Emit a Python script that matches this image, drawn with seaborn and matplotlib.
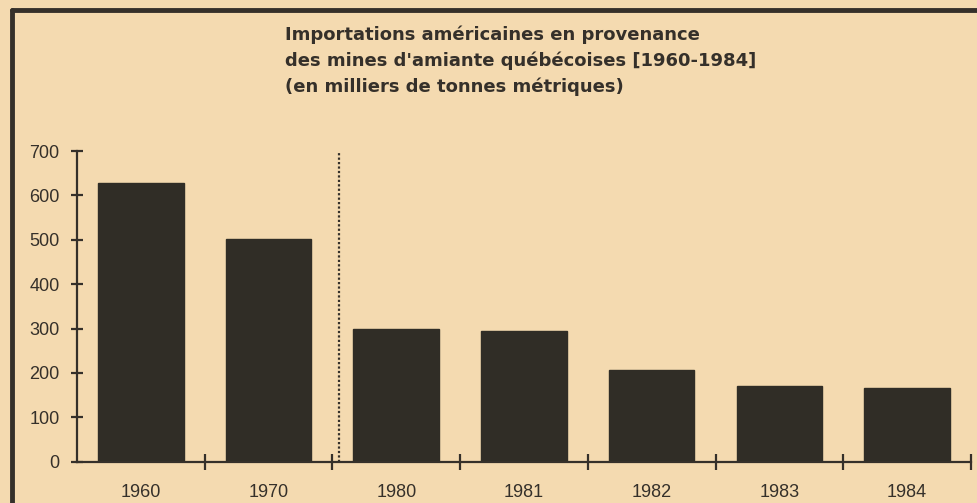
import matplotlib
matplotlib.use("Agg")
import matplotlib.pyplot as plt
import seaborn as sns
from matplotlib.lines import Line2D

# valeurs (milliers de tonnes métriques)
years = ["1960", "1970", "1980", "1981", "1982", "1983", "1984"]
imports = [627, 502, 298, 295, 207, 171, 167]
y_ticks = [0, 100, 200, 300, 400, 500, 600, 700]

title_lines = [
    "Importations américaines en provenance",
    "des mines d'amiante québécoises [1960-1984]",
    "(en milliers de tonnes métriques)",
]

paper = "#f4dab0"
ink = "#35302a"
bar_col = "#302d26"

sns.set_style("ticks")
plt.rcParams["font.family"] = ["Liberation Sans", "DejaVu Sans"]
plt.rcParams["text.color"] = ink

fig = plt.figure(figsize=(9.78, 5.03), dpi=100, facecolor=paper)
ax = fig.add_axes([0.0787, 0.0821, 0.9141, 0.6177])
ax.set_facecolor(paper)

sns.barplot(x=years, y=imports, color=bar_col, saturation=1, width=0.67,
            edgecolor=bar_col, ax=ax)

ax.set_xlim(-0.5, 6.5)
ax.set_ylim(0, 700)
ax.set_yticks(y_ticks)
ax.set_xlabel("")
ax.set_ylabel("")

# ticks de l'axe x aux limites des catégories
ax.set_xticks([i + 0.5 for i in range(len(years))], minor=True)
ax.tick_params(axis="x", which="major", length=0, pad=16, labelsize=13, labelcolor=ink)
ax.tick_params(axis="x", which="minor", direction="inout", length=11, width=1.6, color=ink)
ax.tick_params(axis="y", direction="inout", length=9, width=1.6, color=ink,
               pad=8, labelsize=13, labelcolor=ink)

for s in ["top", "right"]:
    ax.spines[s].set_visible(False)
for s in ["left", "bottom"]:
    ax.spines[s].set_color(ink)
    ax.spines[s].set_linewidth(1.6)

# séparateur pointillé entre 1970 et 1980
ax.vlines(1.55, 0, 695, colors=ink, linestyles=(0, (1, 1)), linewidth=1.6)

fig.text(0.2914, 1 - 26 / 503, "\n".join(title_lines), ha="left", va="top",
         fontsize=13, fontweight="bold", family=["DejaVu Sans"],
         color=ink, linespacing=1.5)

# cadre (haut et gauche)
fig.add_artist(Line2D([12 / 978, 1.0], [1 - 10 / 503, 1 - 10 / 503],
                      transform=fig.transFigure, color=ink, linewidth=3.5))
fig.add_artist(Line2D([12 / 978, 12 / 978], [0.0, 1 - 10 / 503],
                      transform=fig.transFigure, color=ink, linewidth=3.5))

fig.savefig("out.png", dpi=100, facecolor=paper)
